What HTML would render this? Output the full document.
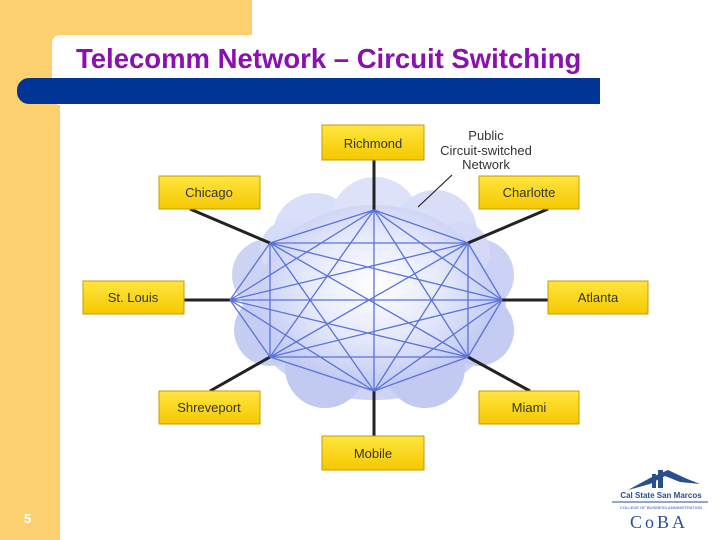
<!DOCTYPE html>
<html><head><style>
html,body{margin:0;padding:0;background:#fff}
body{width:720px;height:540px;position:relative;overflow:hidden;font-family:"Liberation Sans",sans-serif}
</style></head><body>
<svg width="720" height="540" viewBox="0 0 720 540" xmlns="http://www.w3.org/2000/svg" style="position:absolute;left:0;top:0">
<defs>
<radialGradient id="cg" cx="50%" cy="45%" r="55%">
<stop offset="0" stop-color="#ffffff"/><stop offset="0.55" stop-color="#e4e8fb"/><stop offset="1" stop-color="#c2caf3"/>
</radialGradient>
<linearGradient id="bx" x1="0" y1="0" x2="0" y2="1"><stop offset="0" stop-color="#ffe640"/><stop offset="1" stop-color="#f5c800"/></linearGradient>
</defs>
<rect x="0" y="0" width="252" height="36" fill="#fdd06f"/>
<rect x="0" y="0" width="60" height="540" fill="#fdd06f"/>
<rect x="52" y="35" width="600" height="70" rx="8" fill="#fff"/>
<rect x="60" y="90" width="660" height="450" fill="#fff"/>
<rect x="17" y="78" width="583" height="26" rx="12" fill="#003595"/>
<rect x="40" y="78" width="560" height="26" fill="#003595"/>
<text x="76" y="68" font-size="27.5" font-weight="bold" fill="#8a10b0">Telecomm Network – Circuit Switching</text>
<text x="24" y="523" font-size="13" font-weight="bold" fill="#fff">5</text>
<!-- cloud -->
<g>
<ellipse cx="374" cy="300" rx="132" ry="100" fill="#cdd4f6"/>
<circle cx="315" cy="235" r="42" fill="#d9def9"/><circle cx="375" cy="222" r="45" fill="#dde2f9"/><circle cx="435" cy="232" r="42" fill="#d8ddf8"/>
<circle cx="478" cy="275" r="36" fill="#cbd2f5"/><circle cx="478" cy="330" r="36" fill="#c4ccf3"/><circle cx="425" cy="368" r="40" fill="#c2caf2"/>
<circle cx="325" cy="368" r="40" fill="#c2caf2"/><circle cx="270" cy="330" r="36" fill="#c6cdf3"/><circle cx="268" cy="275" r="36" fill="#ccd3f5"/>
<circle cx="290" cy="250" r="30" fill="#d5dbf8"/><circle cx="460" cy="252" r="30" fill="#d3d9f7"/>
<ellipse cx="374" cy="295" rx="115" ry="90" fill="url(#cg)"/>
</g>
<g stroke="#222" stroke-width="3">
<line x1="374" y1="160" x2="374" y2="210"/><line x1="190" y1="209" x2="270" y2="243"/><line x1="548" y1="209" x2="468" y2="243"/>
<line x1="184" y1="300" x2="230" y2="300"/><line x1="548" y1="300" x2="502" y2="300"/>
<line x1="210" y1="391" x2="270" y2="357"/><line x1="530" y1="391" x2="468" y2="357"/><line x1="374" y1="436" x2="374" y2="391"/>
</g>
<line x1="452" y1="175" x2="418" y2="207" stroke="#222" stroke-width="1.2"/>
<g stroke="#5a72dc" stroke-width="1.3" fill="none">
<path d="M374 210L270 243M374 210L468 243M374 210L230 300M374 210L502 300M374 210L270 357M374 210L468 357M374 210L374 391
M270 243L468 243M270 243L230 300M270 243L502 300M270 243L270 357M270 243L468 357M270 243L374 391
M468 243L230 300M468 243L502 300M468 243L270 357M468 243L468 357M468 243L374 391
M230 300L502 300M230 300L270 357M230 300L468 357M230 300L374 391
M502 300L270 357M502 300L468 357M502 300L374 391
M270 357L468 357M270 357L374 391M468 357L374 391"/>
</g>
<g stroke="#c99a00" stroke-width="1" fill="url(#bx)">
<rect x="322" y="125" width="102" height="35"/><rect x="159" y="176" width="101" height="33"/>
<rect x="479" y="176" width="100" height="33"/><rect x="83" y="281" width="101" height="33"/>
<rect x="548" y="281" width="100" height="33"/><rect x="159" y="391" width="101" height="33"/>
<rect x="479" y="391" width="100" height="33"/><rect x="322" y="436" width="102" height="34"/>
</g>
<g font-size="13" fill="#333" text-anchor="middle">
<text x="373" y="148">Richmond</text><text x="209" y="197">Chicago</text><text x="529" y="197">Charlotte</text>
<text x="133" y="302">St. Louis</text><text x="598" y="302">Atlanta</text><text x="209" y="412">Shreveport</text>
<text x="529" y="412">Miami</text><text x="373" y="458">Mobile</text>
<text x="486" y="140">Public</text><text x="486" y="155">Circuit-switched</text><text x="486" y="169">Network</text>
</g>
<!-- logo -->
<path d="M628 490 L650 478 L668 470 L685 478 L700 484 L680 482 L665 476 L650 484 Z" fill="#2a4f8f"/>
<rect x="652" y="474" width="4" height="14" fill="#2a4f8f"/><rect x="658" y="470" width="5" height="18" fill="#2a4f8f"/>
<text x="661" y="498" font-size="8" font-weight="bold" fill="#2a4f8f" text-anchor="middle">Cal State San Marcos</text>
<line x1="612" y1="502" x2="708" y2="502" stroke="#2a4f8f" stroke-width="1"/>
<text x="661" y="509" font-size="4" fill="#2a4f8f" text-anchor="middle">COLLEGE OF BUSINESS ADMINISTRATION</text>
<text x="659" y="528" font-size="18" fill="#2a4f8f" text-anchor="middle" font-family="Liberation Serif,serif" letter-spacing="3">CoBA</text>
</svg>
</body></html>
